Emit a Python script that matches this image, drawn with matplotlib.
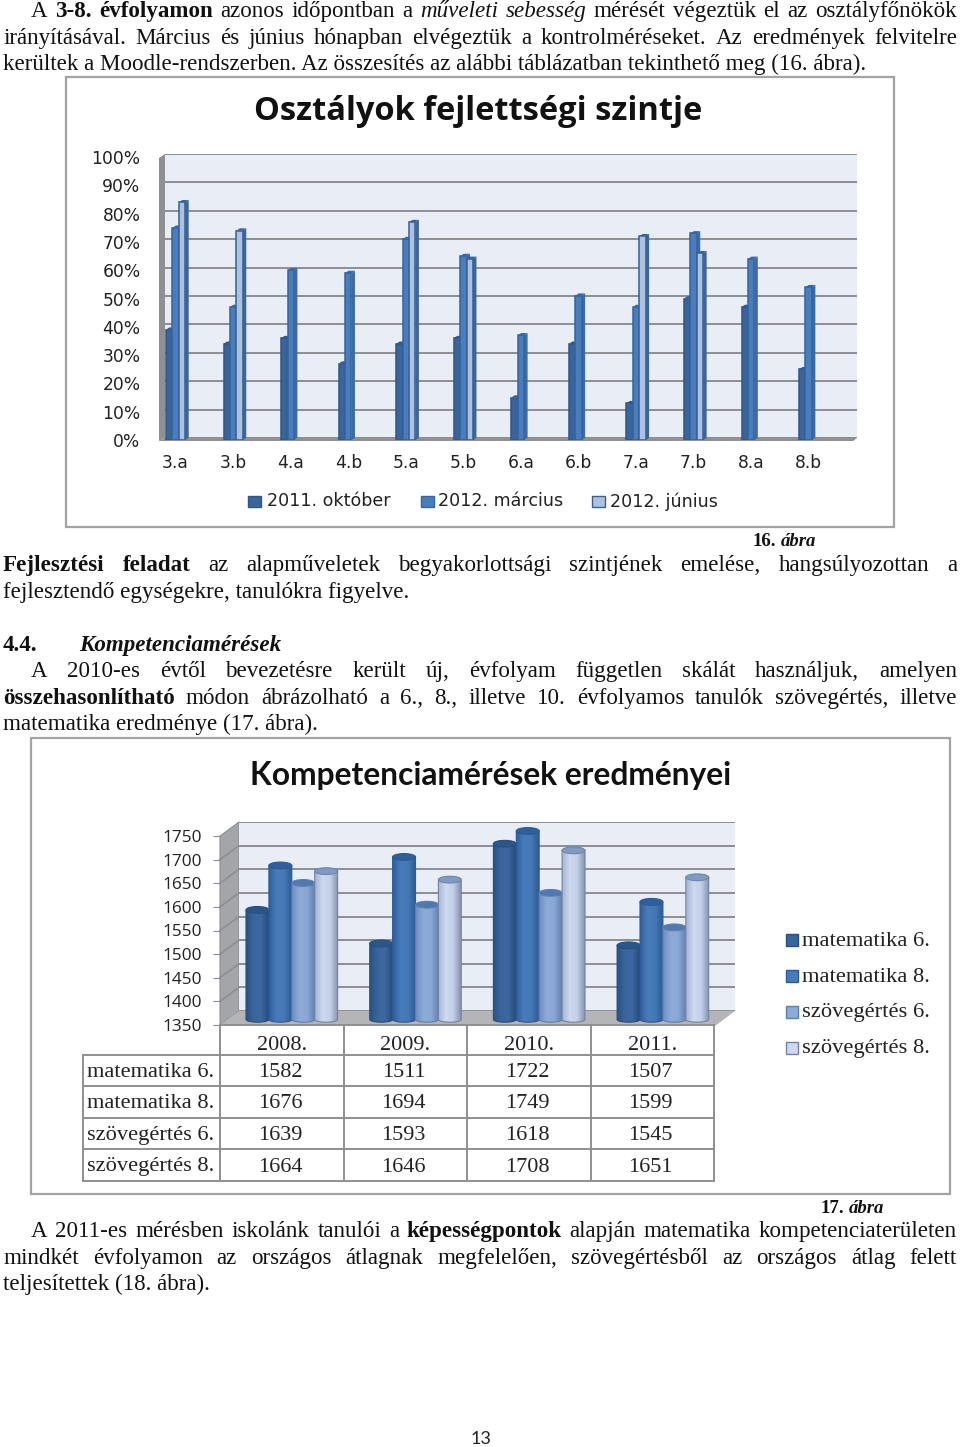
import numpy as np
import matplotlib
matplotlib.use('Agg')
import matplotlib.pyplot as plt
from matplotlib.colors import LinearSegmentedColormap
from matplotlib.patches import Ellipse, Polygon, Rectangle

W, H = 960, 1447

# first chart
classes = ['3.a', '3.b', '4.a', '4.b', '5.a', '5.b', '6.a', '6.b', '7.a', '7.b', '8.a', '8.b']
okt_2011 = [39, 34, 36, 27, 34, 36, 15, 34, 13, 50, 47, 25]
marc_2012 = [75, 47, 60, 59, 71, 65, 37, 51, 47, 73, 64, 54]
jun_2012 = [84, 74, None, None, 77, 64, None, None, 72, 66, None, None]
names1 = ['2011. október', '2012. március', '2012. június']
pct_ticks = [0, 10, 20, 30, 40, 50, 60, 70, 80, 90, 100]

# second chart
years = ['2008.', '2009.', '2010.', '2011.']
mat6 = [1582, 1511, 1722, 1507]
mat8 = [1676, 1694, 1749, 1599]
szov6 = [1639, 1593, 1618, 1545]
szov8 = [1664, 1646, 1708, 1651]
names2 = ['matematika 6.', 'matematika 8.', 'szövegértés 6.', 'szövegértés 8.']
score_ticks = [1350, 1400, 1450, 1500, 1550, 1600, 1650, 1700, 1750]

fig = plt.figure(figsize=(W / 100, H / 100), dpi=100, facecolor='white')
renderer = fig.canvas.get_renderer()

# page axes in pixels, text, frames and the 3D walls go here
pg = fig.add_axes([0, 0, 1, 1], zorder=0)
pg.set_xlim(0, W)
pg.set_ylim(H, 0)
pg.axis('off')


def px_axes(x0, x1, top, bottom, z):
    ax = fig.add_axes([x0 / W, 1 - bottom / H, (x1 - x0) / W, (bottom - top) / H], zorder=z)
    ax.patch.set_alpha(0)
    for s in ax.spines.values():
        s.set_visible(False)
    return ax


SERIF = 'Liberation Serif'
STYLES = {'n': dict(), 'b': dict(fontweight='bold'), 'i': dict(fontstyle='italic'),
          'bi': dict(fontweight='bold', fontstyle='italic')}
BODY = 16.55


def justified(y, runs, x0, x1):
    # word by word so the line fills the column like in the document
    words = []
    for txt, st in runs:
        for w in txt.split():
            t = pg.text(x0, y, w, family=SERIF, fontsize=BODY, va='baseline', color='#111111', **STYLES[st])
            words.append((t, t.get_window_extent(renderer).width))
    gap = (x1 - x0 - sum(w for _, w in words)) / (len(words) - 1)
    x = x0
    for t, w in words:
        t.set_x(x)
        x += w + gap


def plain(y, txt, x0, st='n'):
    pg.text(x0, y, txt, family=SERIF, fontsize=BODY, va='baseline', color='#111111', **STYLES[st])


justified(17, [('A', 'n'), ('3-8. évfolyamon', 'b'), ('azonos időpontban a', 'n'), ('műveleti sebesség', 'i'),
               ('mérését végeztük el az osztályfőnökök', 'n')], 31, 957)
justified(44, [('irányításával.  Március és június hónapban elvégeztük a kontrolméréseket. Az eredmények felvitelre', 'n')], 3, 957)
plain(70, 'kerültek a Moodle-rendszerben. Az összesítés az alábbi táblázatban tekinthető meg (16. ábra).', 3)
pg.text(753, 546, '16.', family=SERIF, fontsize=13.5, va='baseline', fontweight='bold', color='#111111')
pg.text(781, 546, 'ábra', family=SERIF, fontsize=13.5, va='baseline', fontweight='bold', fontstyle='italic', color='#111111')
justified(571, [('Fejlesztési feladat', 'b'), ('az alapműveletek begyakorlottsági szintjének emelése, hangsúlyozottan a', 'n')], 3, 957)
plain(598, 'fejlesztendő egységekre, tanulókra figyelve.', 3)
plain(651, '4.4.', 3, 'b')
plain(651, 'Kompetenciamérések', 79, 'bi')
justified(677, [('A 2010-es évtől bevezetésre került új, évfolyam független skálát használjuk, amelyen', 'n')], 31, 957)
justified(704, [('összehasonlítható', 'b'), ('módon ábrázolható a 6., 8., illetve 10. évfolyamos tanulók szövegértés, illetve', 'n')], 3, 957)
plain(730, 'matematika eredménye (17. ábra).', 3)
pg.text(820, 1213, '17.', family=SERIF, fontsize=13.5, va='baseline', fontweight='bold', color='#111111')
pg.text(849, 1213, 'ábra', family=SERIF, fontsize=13.5, va='baseline', fontweight='bold', fontstyle='italic', color='#111111')
justified(1237, [('A 2011-es mérésben iskolánk tanulói a', 'n'), ('képességpontok', 'b'),
                 ('alapján matematika kompetenciaterületen', 'n')], 31, 957)
justified(1264, [('mindkét évfolyamon az országos átlagnak megfelelően, szövegértésből az országos átlag felett', 'n')], 3, 957)
plain(1290, 'teljesítettek (18. ábra).', 3)
pg.text(481, 1439, '13', family='Lato', fontsize=13, ha='center', va='center', color='#222222')

# frames
FRAME = '#a3a3a3'
pg.add_patch(Rectangle((66, 77), 828, 450, fc='white', ec=FRAME, lw=1.6))
pg.add_patch(Rectangle((31, 738), 919, 456, fc='white', ec=FRAME, lw=1.6))

# ---------- chart 1 ----------
pg.text(478.5, 111, 'Osztályok fejlettségi szintje', family='Open Sans', fontweight='bold',
        fontsize=23.5, ha='center', va='center', color='#111111')

GRID = '#8b8e92'
pg.add_patch(Polygon([(159, 158), (165, 154), (165, 438), (159, 441)], fc='#8f9091', ec='none'))
pg.add_patch(Polygon([(159, 441), (165, 438), (857, 438), (853, 441)], fc='#8f9091', ec='none'))

wall1 = px_axes(165, 857, 154, 438, 1)
wall1.patch.set_alpha(1)
wall1.set_facecolor('#e8edf6')
wall1.set_ylim(0, 100)
wall1.set_xticks([])
wall1.set_yticks(pct_ticks)
wall1.set_yticklabels([])
wall1.tick_params(length=0)
wall1.grid(axis='y', color=GRID, lw=1.4)
wall1.set_axisbelow(True)

STEP1 = 57.55
bar1 = px_axes(160, 860, 157, 440, 2)
bar1.set_xlim((160 - 175.6) / STEP1, (860 - 175.6) / STEP1)
bar1.set_ylim(0, 100)
bar_w = 6.4 / STEP1
side_w = 3.5 / STEP1
fronts = ['#3a659b', '#4a7dbc', '#adc2e2']
sides = ['#31598c', '#3b6aa5', '#3b659d']
edges = ['#2f5686', '#35649e', '#37608f']
for s, vals in enumerate([okt_2011, marc_2012, jun_2012]):
    for i, v in enumerate(vals):
        if v is None:
            continue
        x = i + (s - 1) * bar_w
        r = x + bar_w / 2
        bar1.fill([r, r + side_w, r + side_w, r], [0, 0.8, v + 0.8, v], color=sides[s], lw=0, zorder=3 + s)
        bar1.fill([x - bar_w / 2, r, r + side_w, x - bar_w / 2 + side_w], [v, v, v + 0.8, v + 0.8],
                  color=sides[s], lw=0, zorder=3 + s)
        bar1.bar(x, v, width=bar_w, color=fronts[s], edgecolor=edges[s], lw=1.1, zorder=3 + s)
bar1.set_xticks(range(len(classes)))
bar1.set_xticklabels(classes, family='DejaVu Sans', fontsize=12.3, color='#222222')
bar1.set_yticks(pct_ticks)
bar1.set_yticklabels(['%d%%' % t for t in pct_ticks], family='DejaVu Sans', fontsize=12.3, color='#222222')
bar1.tick_params(axis='x', length=0, pad=10)
bar1.tick_params(axis='y', length=0, pad=14)

for nm, c, e, sx, tx in zip(names1, fronts, edges, [248, 421, 592], [267, 438, 610]):
    pg.add_patch(Rectangle((sx, 496), 13, 11, fc=c, ec=e, lw=1))
    pg.text(tx, 501.5, nm, family='DejaVu Sans', fontsize=12.6, va='center', color='#222222')

# ---------- chart 2 ----------
pg.text(491, 775, 'Kompetenciamérések eredményei', family='Lato', fontweight='bold',
        fontsize=22.9, ha='center', va='center', color='#111111')

WALL2 = '#a3a5a9'
pg.add_patch(Polygon([(220, 836), (239, 822), (239, 1011), (220, 1025)], fc=WALL2, ec='#8c8e92', lw=0.8))
pg.add_patch(Polygon([(220, 1025), (239, 1011), (735, 1011), (715, 1026)], fc='#b4b5b7', ec='none'))
for t in score_ticks[1:-1]:
    yb = 1011 - (t - 1350) * 0.4725
    pg.plot([220, 239], [yb + 14, yb], color=GRID, lw=1.2)

wall2 = px_axes(239, 735, 822, 1011, 1)
wall2.patch.set_alpha(1)
wall2.set_facecolor('#e8edf6')
wall2.set_ylim(1350, 1750)
wall2.set_xticks([])
wall2.set_yticks(score_ticks)
wall2.set_yticklabels([])
wall2.tick_params(length=0)
wall2.grid(axis='y', color=GRID, lw=1.4)
wall2.set_axisbelow(True)

tick2 = px_axes(220, 735, 836, 1025, 2)
tick2.set_xticks([])
tick2.set_ylim(1350, 1750)
tick2.set_yticks(score_ticks)
tick2.set_yticklabels([str(t) for t in score_ticks], family='Open Sans', fontsize=12.4, color='#222222')
tick2.tick_params(axis='y', length=5, width=0.8, color='#8c8e92', pad=8)

STEP2 = 123.7
W2 = 22.9
# the axes run a bit below 1350 so the rounded cylinder feet are not cut off
y_floor = 1350 - 6.5 / 0.4725
bar2 = px_axes(215, 740, 830.5, 1026, 3)
cyl_w = W2 / STEP2
cap_h = 9 / 0.4725
base_h = cap_h * 0.6
ramps = [['#2a5183', '#3a659d', '#3c689f', '#264a78'],
         ['#30609d', '#477cbc', '#4578b6', '#2d5a94'],
         ['#6f8fc0', '#8dabd9', '#8aa7d5', '#6482b2'],
         ['#a4b4d2', '#cdd9ee', '#c3d0e8', '#8793ad']]
tops = ['#2b5689', '#2f5f9c', '#4f79b0', '#7f9ac3']
outlines = ['#27507f', '#2b5a94', '#5f7fad', '#6f85a8']
grad = np.linspace(0, 1, 60)[None, :]
arc = np.linspace(np.pi, 2 * np.pi, 30)
for s, vals in enumerate([mat6, mat8, szov6, szov8]):
    cmap = LinearSegmentedColormap.from_list('cyl%d' % s, ramps[s])
    for i, v in enumerate(vals):
        x = i + (s - 1.5) * cyl_w
        z = 4 + s
        # body of the cylinder, rounded at the bottom, shaded through an image
        outline = np.column_stack([np.r_[x + cyl_w / 2 * np.cos(arc), x + cyl_w / 2, x - cyl_w / 2],
                                   np.r_[1350 + base_h / 2 * np.sin(arc), v, v]])
        body = Polygon(outline, closed=True, fc='none', ec=outlines[s], lw=0.8, zorder=z + 0.1,
                       clip_on=False, transform=bar2.transData)
        bar2.add_patch(body)
        im = bar2.imshow(grad, cmap=cmap, aspect='auto', zorder=z,
                         extent=(x - cyl_w / 2, x + cyl_w / 2, 1350 - base_h, v))
        im.set_clip_path(body)
        bar2.add_patch(Ellipse((x, v), cyl_w, cap_h * 0.75, fc=tops[s], ec=outlines[s], lw=0.8,
                               zorder=z + 0.2, clip_on=False))
bar2.set_xlim((215 - 291.8) / STEP2, (740 - 291.8) / STEP2)
bar2.set_ylim(y_floor, 1750)
bar2.set_xticks([])
bar2.set_yticks([])

# data table under the chart
col_x = [83, 220, 344, 467, 591, 714]
row_y = [1025, 1055, 1086, 1118, 1149, 1181]
TBL = '#8f8f8f'
pg.plot([220, 714], [row_y[0], row_y[0]], color=TBL, lw=1.4)
for yy in row_y[1:]:
    pg.plot([83, 714], [yy, yy], color=TBL, lw=1.4)
pg.plot([83, 83], [row_y[1], row_y[-1]], color=TBL, lw=1.4)
for xx in col_x[1:]:
    pg.plot([xx, xx], [row_y[0], row_y[-1]], color=TBL, lw=1.4)
for c, yr in enumerate(years):
    pg.text((col_x[c + 1] + col_x[c + 2]) / 2, 1045, yr, family=SERIF, fontsize=16, ha='center', va='center', color='#222222')
for r, (nm, vals) in enumerate(zip(names2, [mat6, mat8, szov6, szov8])):
    ym = (row_y[r + 1] + row_y[r + 2]) / 2 + 2
    pg.text(87, ym, nm, family=SERIF, fontsize=16.1, va='center', color='#222222')
    for c, v in enumerate(vals):
        pg.text((col_x[c + 1] + col_x[c + 2]) / 2 - 2, ym, str(v), family=SERIF, fontsize=16, ha='center', va='center', color='#222222')

# legend
for nm, r, o, ly in zip(names2, ramps, outlines, [940, 976, 1012, 1048]):
    pg.add_patch(Rectangle((786, ly - 6), 12, 12, fc=r[1], ec=o, lw=1))
    pg.text(802, ly + 1, nm, family=SERIF, fontsize=16.2, va='center', color='#222222')

fig.savefig('out.png', dpi=100, facecolor='white')
